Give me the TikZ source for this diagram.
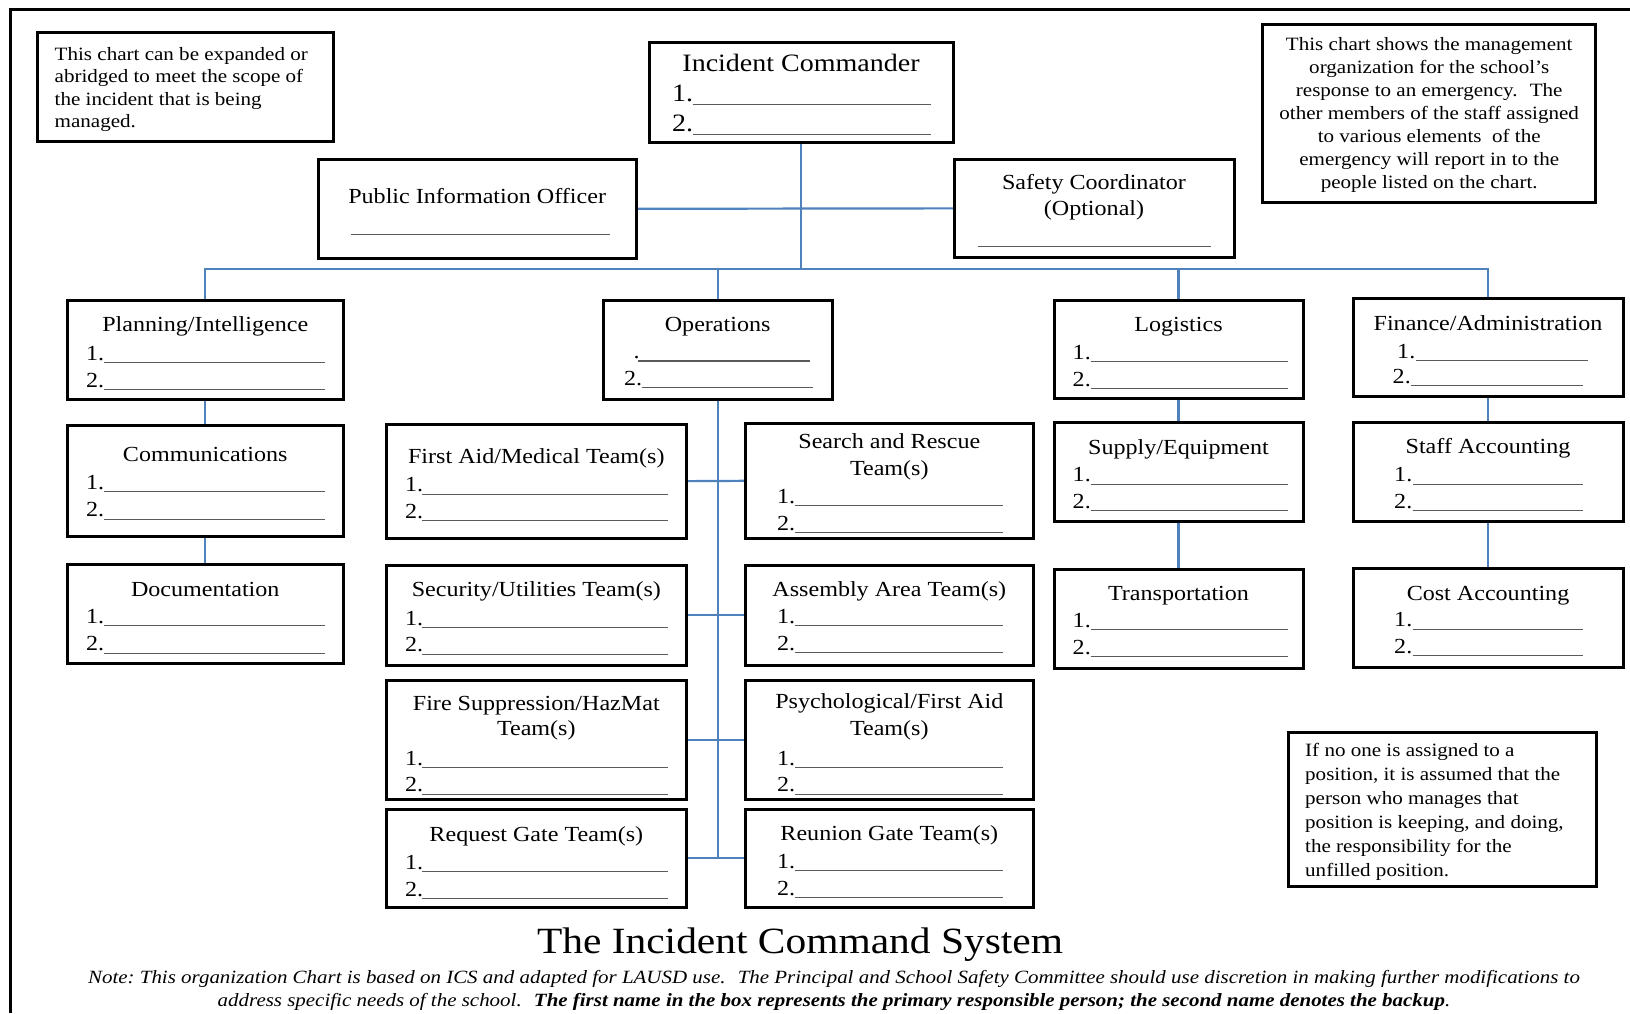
\documentclass[tikz,border=0pt]{standalone}
\usepackage{fontspec}
\setmainfont{Liberation Serif}[FakeStretch=1.12]
\usetikzlibrary{fit,backgrounds}

\definecolor{linkblue}{HTML}{4F81BD}
\definecolor{blankgray}{HTML}{5A5A5A}

\tikzset{
  orgbox/.style={draw=black, line width=3pt, inner sep=0pt, outer sep=0pt, fill=white},
  link/.style={draw=linkblue, line width=2.2pt},
  frameline/.style={draw=black, line width=3pt},
  ttl/.style={anchor=base, inner sep=0pt, font=\fontsize{21.5}{25}\selectfont},
  bigttl/.style={ttl, font=\fontsize{25}{29}\selectfont},
  num/.style={anchor=base west, inner sep=0pt, font=\fontsize{21.5}{25}\selectfont},
  bignum/.style={num, font=\fontsize{25}{29}\selectfont},
  blank/.style={draw=blankgray, line width=1.2pt},
  notetext/.style={anchor=base west, inner sep=0pt, font=\fontsize{18.8}{22.8}\selectfont},
}

% box from corner to corner
\newcommand\obox[5]{\node[orgbox, fit={(#2,#3) (#4,#5)}] (#1) {};}
% heading inside a box: name, box, baseline below top, text
\newcommand\heading[4]{\node[ttl] (#1) at ([yshift=-#3pt]#2.north) {#4};}
% two numbered blanks: box, baseline 1, baseline 2, label x, line start, line end (from right)
\newcommand\slots[6]{%
  \node[num] (#1-1) at ([xshift=#4pt,yshift=-#2pt]#1.north west) {1.};
  \node[num] (#1-2) at ([xshift=#4pt,yshift=-#3pt]#1.north west) {2.};
  \draw[blank] ([xshift=#5pt,yshift=-#2pt-2.5pt]#1.north west) -- ([xshift=-#6pt,yshift=-#2pt-2.5pt]#1.north east);
  \draw[blank] ([xshift=#5pt,yshift=-#3pt-2.5pt]#1.north west) -- ([xshift=-#6pt,yshift=-#3pt-2.5pt]#1.north east);
}

\begin{document}
\begin{tikzpicture}[x=1pt,y=-1pt]
\useasboundingbox (0,0) rectangle (1630,1013);

% page frame (top and left edges)
\draw[frameline] (1630,9) -- (10,9) -- (10,1013);

% ---------- command staff ----------
\obox{ic}{649}{42.7}{953}{142.3}
\node[bigttl] (ic-t) at ([yshift=-28.3pt]ic.north) {Incident Commander};
\node[bignum] (ic-1) at ([xshift=23pt,yshift=-59pt]ic.north west) {1.};
\node[bignum] (ic-2) at ([xshift=23pt,yshift=-89pt]ic.north west) {2.};
\draw[blank] ([xshift=43.5pt,yshift=-61.5pt]ic.north west) -- ([xshift=-22pt,yshift=-61.5pt]ic.north east);
\draw[blank] ([xshift=43.5pt,yshift=-91.5pt]ic.north west) -- ([xshift=-22pt,yshift=-91.5pt]ic.north east);

\obox{pio}{318.3}{159.3}{636}{258.3}
\heading{pio-t}{pio}{44}{Public Information Officer}
\draw[blank] ([xshift=32.7pt,yshift=-75pt]pio.north west) -- ([xshift=-26pt,yshift=-75pt]pio.north east);

\obox{sc}{954}{159}{1234}{257.7}
\heading{sc-t}{sc}{30.3}{Safety Coordinator}
\heading{sc-t2}{sc}{56}{(Optional)}
\draw[blank] ([xshift=24pt,yshift=-87.7pt]sc.north west) -- ([xshift=-23pt,yshift=-87.7pt]sc.north east);

% ---------- section chiefs ----------
\obox{plan}{67}{300}{343.5}{399}
\heading{plan-t}{plan}{31.7}{Planning/Intelligence}
\slots{plan}{60}{87.3}{19}{37}{18.5}

\obox{ops}{603.3}{300}{832}{399}
\heading{ops-t}{ops}{31.7}{Operations}
\node[num] (ops-1) at ([xshift=30pt,yshift=-58.5pt]ops.north west) {.};
\node[num] (ops-2) at ([xshift=20.7pt,yshift=-85pt]ops.north west) {2.};
\draw[blank] ([xshift=34.7pt,yshift=-61pt]ops.north west) -- ([xshift=-22pt,yshift=-61pt]ops.north east);
\draw[blank] ([xshift=38.4pt,yshift=-87.5pt]ops.north west) -- ([xshift=-19pt,yshift=-87.5pt]ops.north east);

\obox{log}{1054}{300}{1303}{398.3}
\heading{log-t}{log}{31.7}{Logistics}
\slots{log}{59}{86}{18.5}{36.6}{15.5}

\obox{fin}{1353}{298.3}{1623}{396.7}
\heading{fin-t}{fin}{31.7}{Finance/Administration}
\node[num] (fin-1) at ([xshift=44pt,yshift=-60pt]fin.north west) {1.};
\node[num] (fin-2) at ([xshift=39.5pt,yshift=-85pt]fin.north west) {2.};
\draw[blank] ([xshift=62.6pt,yshift=-62.5pt]fin.north west) -- ([xshift=-35.5pt,yshift=-62.5pt]fin.north east);
\draw[blank] ([xshift=58pt,yshift=-87.5pt]fin.north west) -- ([xshift=-40pt,yshift=-87.5pt]fin.north east);

% ---------- planning units ----------
\obox{com}{67}{425}{343.5}{536}
\heading{com-t}{com}{36.7}{Communications}
\slots{com}{64.3}{91.7}{19}{37}{18.5}

\obox{doc}{67}{564.3}{343.5}{663.3}
\heading{doc-t}{doc}{31.7}{Documentation}
\slots{doc}{59}{86.4}{19}{37}{18.5}

% ---------- operations teams ----------
\obox{fa}{386.6}{424}{686}{538.3}
\heading{fa-t}{fa}{39.3}{First Aid/Medical Team(s)}
\slots{fa}{67.7}{94.3}{18.4}{35.3}{18}

\obox{sec}{386.6}{565}{686}{665}
\heading{sec-t}{sec}{31.7}{Security/Utilities Team(s)}
\slots{sec}{60}{86.7}{18.4}{35.3}{18}

\obox{fire}{386.6}{680.7}{686}{799.3}
\heading{fire-t}{fire}{29.3}{Fire Suppression/HazMat}
\heading{fire-t2}{fire}{54.3}{Team(s)}
\slots{fire}{84.3}{111}{18.4}{35.3}{18}

\obox{req}{386.6}{809}{686}{907.3}
\heading{req-t}{req}{32.7}{Request Gate Team(s)}
\slots{req}{60.3}{87}{18.4}{35.3}{18}

\obox{sr}{745.6}{423.3}{1033}{538.3}
\heading{sr-t}{sr}{25}{Search and Rescue}
\heading{sr-t2}{sr}{51.7}{Team(s)}
\slots{sr}{80}{106.7}{31.4}{49.4}{30}

\obox{asm}{745.6}{565}{1033}{665}
\heading{asm-t}{asm}{31.7}{Assembly Area Team(s)}
\slots{asm}{58.3}{85}{31.4}{49.4}{30}

\obox{psy}{745.6}{680.7}{1033}{799.3}
\heading{psy-t}{psy}{27.6}{Psychological/First Aid}
\heading{psy-t2}{psy}{54.3}{Team(s)}
\slots{psy}{84.3}{111}{31.4}{49.4}{30}

\obox{reu}{745.6}{809}{1033}{907.3}
\heading{reu-t}{reu}{31}{Reunion Gate Team(s)}
\slots{reu}{59.3}{86}{31.4}{49.4}{30}

% ---------- logistics units ----------
\obox{sup}{1054}{422.7}{1303}{521.7}
\heading{sup-t}{sup}{31.3}{Supply/Equipment}
\slots{sup}{59}{85.6}{18.5}{36.6}{15.5}

\obox{trn}{1054}{569.3}{1303}{668.3}
\heading{trn-t}{trn}{31.4}{Transportation}
\slots{trn}{58}{84.7}{18.5}{36.6}{15.5}

% ---------- finance units ----------
\obox{stf}{1353}{422.7}{1623}{521.7}
\heading{stf-t}{stf}{30.6}{Staff Accounting}
\slots{stf}{59}{85.6}{41}{59.5}{40}

\obox{cst}{1353}{568.7}{1623}{667.3}
\heading{cst-t}{cst}{31.3}{Cost Accounting}
\slots{cst}{58}{84.6}{41}{59.5}{40}

% ---------- explanatory notes ----------
\obox{nl}{37.5}{32.3}{333.5}{141}
\node[notetext] (nl-txt) at (54.5,60) {\parbox[t]{275pt}{\raggedright\baselineskip=22.6pt
This chart can be expanded or\\abridged to meet the scope of\\the incident that is being\\managed.}};

\obox{nr}{1262.5}{24}{1595.6}{202.3}
\node[notetext] (nr-txt) at (1269,50) {\parbox[t]{320pt}{\centering\baselineskip=23pt
This chart shows the management\\organization for the school’s\\response to an emergency.~ The\\other members of the staff assigned\\to various elements~ of the\\emergency will report in to the\\people listed on the chart.}};

\obox{nb}{1288.3}{732.7}{1596}{886.7}
\node[notetext] (nb-txt) at (1305,756) {\parbox[t]{285pt}{\raggedright\baselineskip=24.1pt
If no one is assigned to a\\position, it is assumed that the\\person who manages that\\position is keeping, and doing,\\the responsibility for the\\unfilled position.}};

% ---------- title and footnote ----------
\node[anchor=base, inner sep=0pt, font=\fontsize{37}{40}\selectfont] (title) at (800,953) {The Incident Command System};
\node[anchor=base, inner sep=0pt, font=\fontsize{18.7}{23}\selectfont\itshape] (foot) at (834,983)
  {\parbox[t]{1620pt}{\centering\baselineskip=23pt
  Note:\ This organization Chart is based on ICS and adapted for LAUSD use.~ The Principal and School Safety Committee should use discretion in making further modifications to\\
  address specific needs of the school.~ \textbf{The first name in the box represents the primary responsible person; the second name denotes the backup}.}};

% ---------- reporting lines ----------
\begin{pgfonlayer}{background}
  \coordinate (bus) at (0,269.3);
  \draw[link] (ic.south) -- (ic.south |- bus);
  \draw[link] (pio.east) -- (sc.west);
  \draw[link] (plan.north) -- (plan.north |- bus) -- (fin.north |- bus) -- (fin.north);
  \draw[link] (ops.north) -- (ops.north |- bus);
  \draw[link] (log.north) -- (log.north |- bus);
  \draw[link] (plan.south) -- (com.north);
  \draw[link] (com.south) -- (doc.north);
  \draw[link] (log.south) -- (sup.north);
  \draw[link] (sup.south) -- (trn.north);
  \draw[link] (fin.south) -- (stf.north);
  \draw[link] (stf.south) -- (cst.north);
  \draw[link] (ops.south) -- (ops.south |- req.east);
  \draw[link] (fa.east) -- (sr.west);
  \draw[link] (sec.east) -- (asm.west);
  \draw[link] (fire.east) -- (psy.west);
  \draw[link] (req.east) -- (reu.west);
\end{pgfonlayer}
\end{tikzpicture}
\end{document}
